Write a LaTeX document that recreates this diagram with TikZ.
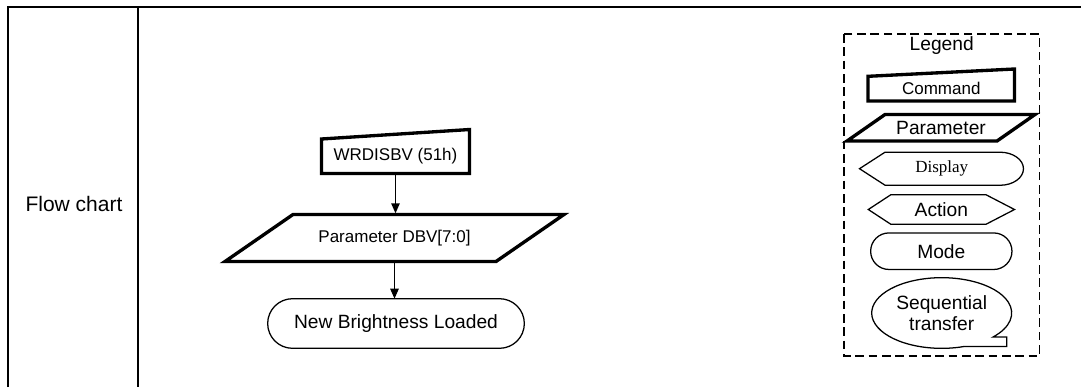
\documentclass[tikz,border=0pt]{standalone}
\usepackage{fontspec}
\setmainfont{Liberation Sans}
\newfontfamily\serifface{Liberation Serif}
\usetikzlibrary{arrows.meta,calc}
\begin{document}
\begin{tikzpicture}[x=0.75pt,y=-0.75pt,
  tableline/.style={line width=1.1pt},
  heavy/.style={line width=2.5pt,line join=miter},
  light/.style={line width=0.95pt},
  flowarrow/.style={line width=1.05pt,-{Triangle[length=7.5pt,width=6.3pt]}},
  txt/.style={inner sep=0pt,outer sep=0pt,align=center},
  flowtext/.style={txt,font=\fontsize{12.75}{15}\selectfont},
  legtext/.style={txt,font=\fontsize{14.4}{15.75}\selectfont},
]
\useasboundingbox (0,0) rectangle (1081,387);

% table frame
\draw[tableline] (8,387) -- (8,7) -- (1081,7);
\draw[tableline] (138,7) -- (138,387);
\node[txt,font=\fontsize{15.75}{18}\selectfont] (rowhead) at (74,204) {Flow chart};

% flow chart
\node[flowtext,minimum width=111pt,minimum height=25.9pt] (wr) at (395.5,156.25) {WRDISBV (51h)};
\draw[heavy] (wr.south west) -- (wr.south east) -- ([yshift=7.1pt]wr.north east) -- (wr.north west) -- cycle;

\node[flowtext,minimum width=152.25pt,minimum height=35.25pt] (par) at (394.5,238) {Parameter DBV[7:0]};
\draw[heavy] ([xshift=-51pt]par.south west) -- (par.north west) -- ([xshift=51pt]par.north east) -- (par.south east) -- cycle;

\node[legtext,draw,light,rounded corners=18.6pt,minimum width=192.5pt,minimum height=37.2pt] (nbl) at (396,323.5) {New Brightness Loaded};

\draw[flowarrow,shorten >=0.9pt] (wr.south) -- (wr.south |- par.north);
\draw[flowarrow] (par.south) -- (par.south |- nbl.north);

% legend
\draw[line width=1pt,dash pattern=on 6.5pt off 3.5pt] (844,34) rectangle (1039.5,356);
\node[legtext] (legtitle) at (941.7,46) {Legend};

\node[flowtext] (cmd) at (941.25,88.65) {Command};
\draw[heavy] ($(cmd)+(-73.25,12.35)$) -- ($(cmd)+(73.25,12.35)$) -- ($(cmd)+(73.25,-19.65)$) -- ($(cmd)+(-73.25,-12.35)$) -- cycle;

\node[legtext] (prm) at (941,127.75) {Parameter};
\draw[heavy] ($(prm)+(-94,13.25)$) -- ($(prm)+(-56,-13.25)$) -- ($(prm)+(94,-13.25)$) -- ($(prm)+(56,13.25)$) -- cycle;

\node[txt,font=\serifface\fontsize{12.75}{15}\selectfont] (disp) at (941.7,168.7) {Display};
\draw[light] ($(disp)+(-82.2,0)$) -- ($(disp)+(-56.7,-16.5)$) -- ($(disp)+(58.3,-16.5)$)
  arc[start angle=90,end angle=-90,x radius=17.6pt,y radius=12.4pt]
  -- ($(disp)+(-56.7,16.5)$) -- cycle;

\node[legtext] (act) at (941.4,209.5) {Action};
\draw[light] ($(act)+(-73.1,0)$) -- ($(act)+(-50.6,-14.75)$) -- ($(act)+(44.6,-14.75)$) -- ($(act)+(73.1,0)$) -- ($(act)+(44.6,14.75)$) -- ($(act)+(-50.6,14.75)$) -- cycle;

\node[legtext,draw,light,rounded corners=13.7pt,minimum width=106pt,minimum height=27.4pt] (mode) at (941.3,251.2) {Mode};

\node[legtext] (seq) at (941.7,313) {Sequential\\transfer};
\draw[light] ($(seq)+(-71.7:52.5pt and 26.5pt)$)
  arc[start angle=-71.7,end angle=-403,x radius=52.5pt,y radius=26.5pt]
  -- ++(10.35pt,0pt) -- ++(0pt,-7.05pt) -- cycle;
\end{tikzpicture}
\end{document}
